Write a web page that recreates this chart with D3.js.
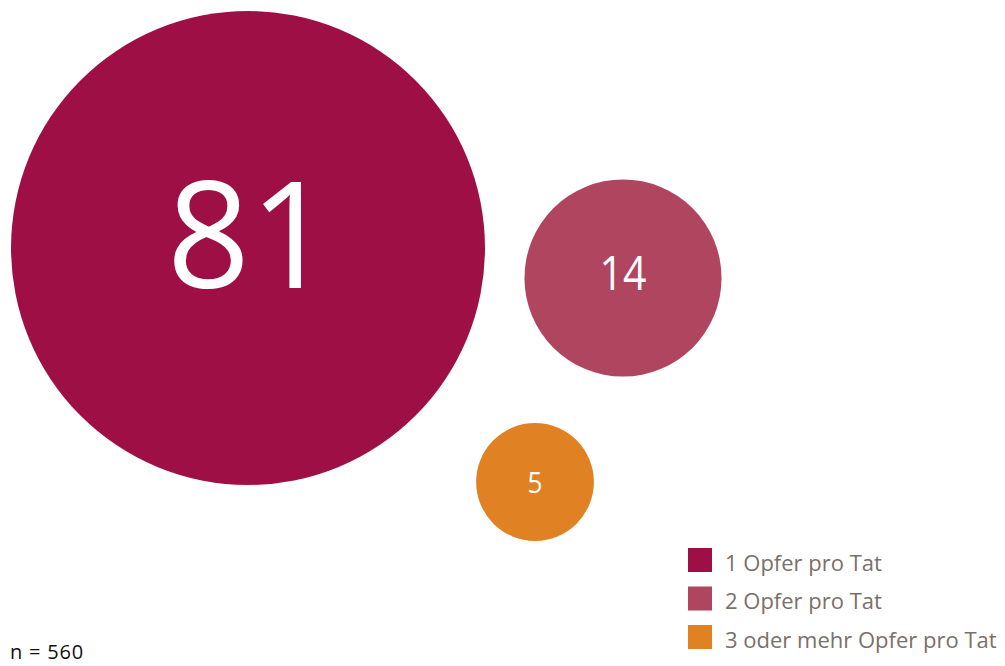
<!DOCTYPE html>
<html><head><meta charset="utf-8">
<script src="https://cdn.jsdelivr.net/npm/d3@7"></script>
<style>body{margin:0;background:#fff;} svg{display:block;}</style>
</head><body>
<svg id="chart" width="1005" height="666"></svg>
<script>
// data
const categories = ["1 Opfer pro Tat", "2 Opfer pro Tat", "3 oder mehr Opfer pro Tat"];
const values = [81, 14, 5];
const note = "n = 560";

// layout / style
const colors = ["#9E1045", "#B04560", "#E08224"];
const layout = [
  {cx: 250, cy: 248, fs: 148, base: 40, len: 166},
  {cx: 623, cy: 278, fs: 48, base: 12, len: 47},
  {cx: 535, cy: 482, fs: 30, base: 11, len: 15}
];

const svg = d3.select("#chart");
const font = "'Open Sans',sans-serif";
const r = d3.scaleSqrt().domain([0, 81]).range([0, 237]);

const g = svg.selectAll("g.bub").data(values).join("g").attr("class","bub");
g.append("circle")
  .attr("cx", (d,i)=>i===0 ? 248 : layout[i].cx).attr("cy", (d,i)=>layout[i].cy)
  .attr("r", d=>r(d)).attr("fill", (d,i)=>colors[i]);
g.append("text")
  .attr("x", (d,i)=>layout[i].cx).attr("y", (d,i)=>layout[i].cy + layout[i].base)
  .attr("text-anchor","middle")
  .attr("textLength",(d,i)=>layout[i].len).attr("lengthAdjust","spacingAndGlyphs")
  .attr("font-family", font).attr("font-size",(d,i)=>layout[i].fs)
  .attr("fill","#fff").text(d=>d);

const leg = svg.selectAll("g.leg").data(categories).join("g").attr("class","leg")
  .attr("transform",(d,i)=>`translate(688,${548 + i*38.5})`);
leg.append("rect").attr("width",24).attr("height",24).attr("fill",(d,i)=>colors[i]);
leg.append("text").attr("x",37).attr("y",15).attr("dy","0.36em")
  .attr("font-family",font).attr("font-size",22)
  .attr("fill","#7a706a").text(d=>d);

svg.append("text").attr("x",10).attr("y",659)
  .attr("font-family",font).attr("font-size",20).attr("letter-spacing",0.8)
  .attr("fill","#111").text(note);
</script>
</body></html>
